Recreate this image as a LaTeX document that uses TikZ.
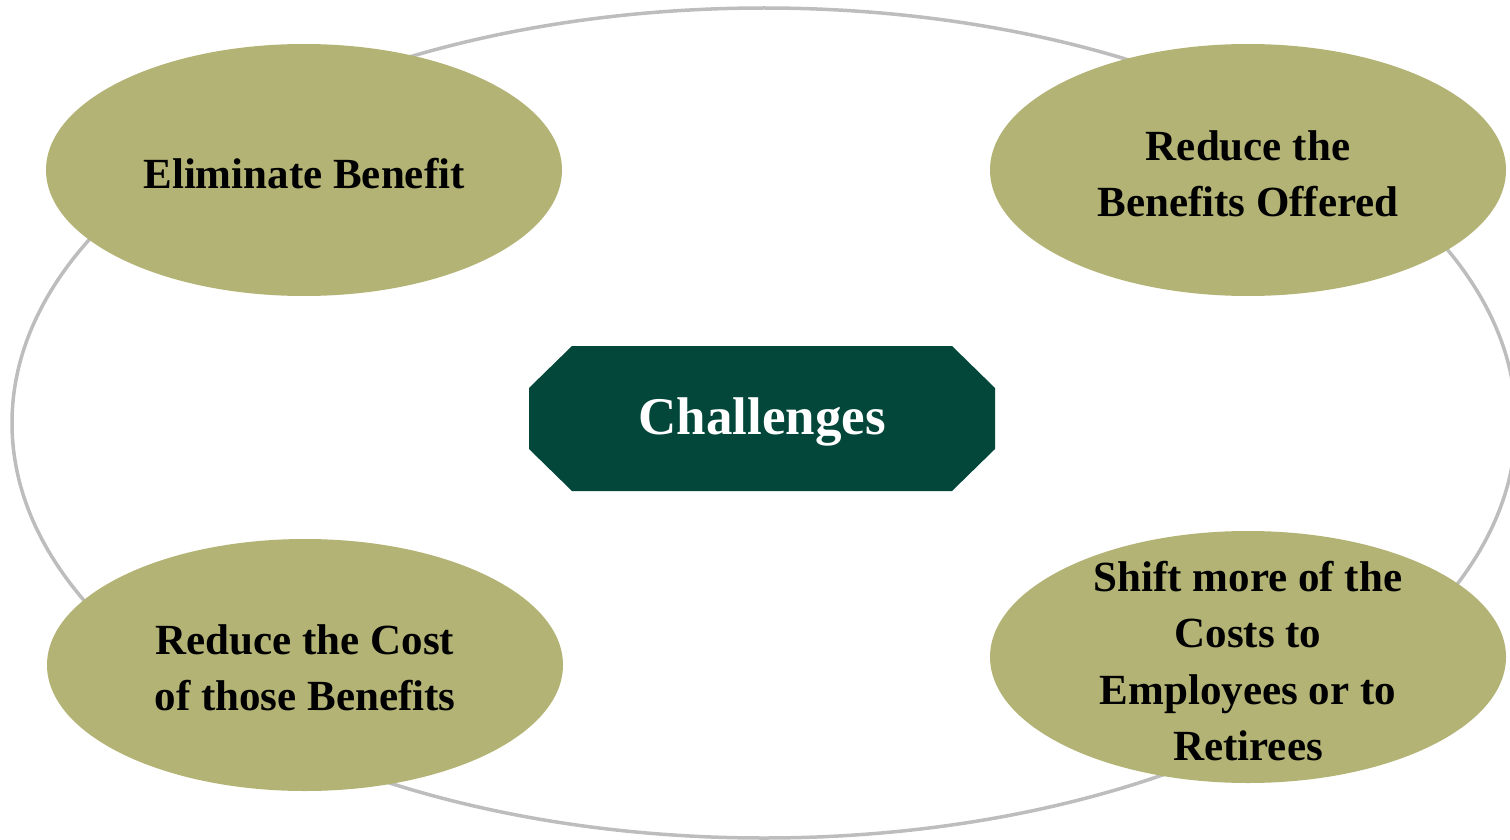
\documentclass[tikz,border=0pt]{standalone}
\usepackage{fontspec}
\setmainfont{Liberation Serif}
\usetikzlibrary{shapes.geometric}
\definecolor{ringgray}{HTML}{BDBDBD}
\definecolor{olive}{HTML}{B3B375}
\definecolor{deepgreen}{HTML}{02473A}
\begin{document}
\begin{tikzpicture}[x=1pt,y=-1pt,
  blob/.style={ellipse, fill=olive, draw=none, inner sep=0pt,
    minimum width=516pt, minimum height=252pt},
  idea/.style={align=center, inner sep=0pt,
    font=\fontsize{43}{56.5}\selectfont\bfseries, text=black},
  hub/.style={font=\fontsize{53}{60}\selectfont\bfseries, text=white}]
\useasboundingbox (0,0) rectangle (1510,840);
% outer ring
\draw[ringgray, line width=3.5pt] (764,423) ellipse [x radius=752, y radius=415];
% four options
\node[blob] (elimB) at (304,170) {};
\node[blob] (reduceB) at (1248,170) {};
\node[blob] (costB) at (305,665) {};
\node[blob] (shiftB) at (1248,657) {};
\node[idea] (elim) at (304,174) {Eliminate Benefit};
\node[idea] (reduce) at (1248,174) {Reduce the\\Benefits Offered};
\node[idea] (cost) at (305,668) {Reduce the Cost\\of those Benefits};
\node[idea] (shift) at (1248,661) {Shift more of the\\Costs to\\Employees or to\\Retirees};
% central octagon
\fill[deepgreen] (572,346) -- (952,346) -- (995,388) -- (995,449) -- (952,491)
  -- (572,491) -- (529,449) -- (529,388) -- cycle;
\node[hub] (chal) at (762,422) {Challenges};
\end{tikzpicture}
\end{document}
